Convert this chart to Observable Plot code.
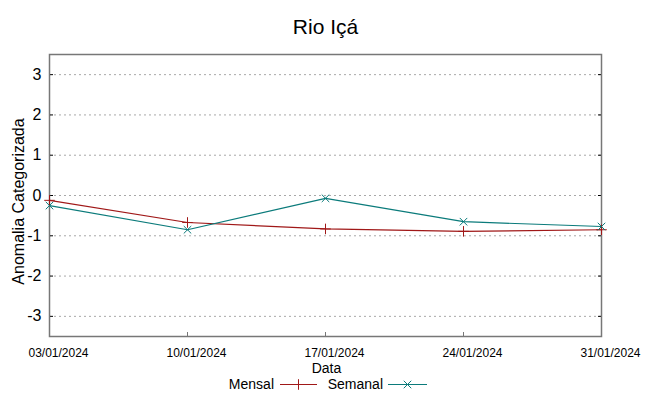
<!DOCTYPE html>
<html><head><meta charset="utf-8">
<script src="https://cdn.jsdelivr.net/npm/d3@7"></script>
<script src="https://cdn.jsdelivr.net/npm/@observablehq/plot@0.6"></script>
<style>
body{margin:0;background:#fff;font-family:"Liberation Sans",Arial,sans-serif;}
#wrap{position:relative;width:649px;height:396px;overflow:hidden;}
#wrap svg.legend{position:absolute;left:0;top:0;pointer-events:none;}
</style></head><body><div id="wrap"></div>
<script>
const dates = ["2024-01-03","2024-01-10","2024-01-17","2024-01-24","2024-01-31"];
const mensal = [-0.12,-0.67,-0.83,-0.89,-0.85];
const semanal = [-0.25,-0.85,-0.07,-0.65,-0.77];
const seriesNames = ["Mensal","Semanal"];
const yTicks = [-3,-2,-1,0,1,2,3];
const titleText = "Rio Içá";
const xLabel = "Data";
const yLabel = "Anomalia Categorizada";
const colors = ["#a01818","#0b7b7b"];
const symbols = ["plus","times"];

const parse = d3.utcParse("%Y-%m-%d");
const dateObjs = dates.map(parse);
const seriesValues = [mensal, semanal];
const rows = [];
seriesNames.forEach((s,i)=>{
  dateObjs.forEach((d,j)=>rows.push({date:d, value:seriesValues[i][j], serie:s}));
});

const chart = Plot.plot({
  width:649, height:396,
  marginTop:54, marginRight:48, marginBottom:60, marginLeft:49,
  style:{fontFamily:"'Liberation Sans', Arial, sans-serif", background:"#fff", color:"#000", overflow:"visible"},
  x:{type:"utc", domain:[dateObjs[0], dateObjs[dateObjs.length-1]]},
  y:{domain:[-3.5,3.5]},
  color:{domain:seriesNames, range:colors},
  symbol:{domain:seriesNames, range:symbols},
  marks:[
    Plot.gridY(yTicks,{stroke:"#a8a8a8", strokeOpacity:1, strokeDasharray:"2,3"}),
    Plot.axisY(yTicks,{anchor:"left", tickSize:-4, tickPadding:12, fontSize:16, tickFormat:d=>String(d), label:null}),
    Plot.axisY(yTicks,{anchor:"right", tickSize:-4, tickFormat:()=>"", label:null}),
    Plot.axisX(dateObjs,{anchor:"bottom", tickSize:-4, stroke:"#777", tickFormat:()=>"", label:null}),
    Plot.axisX(dateObjs,{anchor:"bottom", tickSize:0, tickPadding:12, dx:9, fontSize:12, tickFormat:d3.utcFormat("%d/%m/%Y"), label:null}),
    Plot.frame({stroke:"#777", strokeWidth:1.5}),
    Plot.line(rows,{x:"date", y:"value", z:"serie", stroke:"serie", strokeWidth:1.2}),
    Plot.dot(rows,{x:"date", y:"value", symbol:"serie", stroke:"serie", r:3.5, strokeWidth:1}),
    Plot.text([titleText],{frameAnchor:"top", dy:-35, fontSize:21}),
    Plot.text([yLabel],{frameAnchor:"left", textAnchor:"middle", lineAnchor:"middle", rotate:-90, dx:-31, dy:6, fontSize:16}),
    Plot.text([xLabel],{frameAnchor:"bottom", dy:36, dx:1, fontSize:14})
  ]
});
const wrap = document.getElementById("wrap");
wrap.appendChild(chart);

// legend
const ns = "http://www.w3.org/2000/svg";
const lg = document.createElementNS(ns,"svg");
lg.setAttribute("class","legend");
lg.setAttribute("width",649); lg.setAttribute("height",396);
const entries = [
  {textEnd:274, x1:280, x2:317},
  {textEnd:383, x1:388, x2:427}
];
seriesNames.forEach((name,i)=>{
  const e = entries[i];
  const t = document.createElementNS(ns,"text");
  t.setAttribute("x",e.textEnd); t.setAttribute("y",389);
  t.setAttribute("text-anchor","end");
  t.setAttribute("font-size","14");
  t.setAttribute("font-family","'Liberation Sans', Arial, sans-serif");
  t.textContent = name;
  lg.appendChild(t);
  const l = document.createElementNS(ns,"line");
  l.setAttribute("x1",e.x1); l.setAttribute("x2",e.x2);
  l.setAttribute("y1",384.5); l.setAttribute("y2",384.5);
  l.setAttribute("stroke",colors[i]); l.setAttribute("stroke-width",1.2);
  lg.appendChild(l);
  const sym = symbols[i]==="plus" ? d3.symbolPlus : d3.symbolTimes;
  const p = document.createElementNS(ns,"path");
  p.setAttribute("d", d3.symbol(sym, Math.PI*3.5*3.5)());
  p.setAttribute("transform",`translate(${(e.x1+e.x2)/2},384.5)`);
  p.setAttribute("fill","none"); p.setAttribute("stroke",colors[i]);
  lg.appendChild(p);
});
wrap.appendChild(lg);
</script>
</body></html>
